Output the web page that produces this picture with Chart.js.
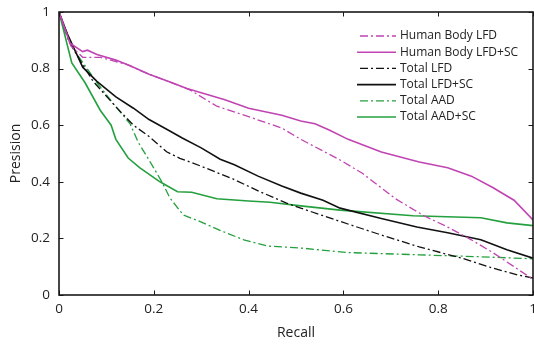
<!DOCTYPE html>
<html>
<head>
<meta charset="utf-8">
<script src="https://cdn.jsdelivr.net/npm/chart.js@4"></script>
<style>
  body { margin: 0; background: #fff; }
  #wrap { width: 534px; height: 345px; position: relative; }
</style>
</head>
<body>
<div id="wrap"><canvas id="myChart"></canvas></div>
<script>
// datos (recall / precision)
const seriesNames = ['Human Body LFD', 'Human Body LFD+SC', 'Total LFD', 'Total LFD+SC', 'Total AAD', 'Total AAD+SC'];

const hbLfdRecall = [0, 0.025, 0.05, 0.087, 0.12, 0.143, 0.19, 0.23, 0.276, 0.333, 0.40, 0.47, 0.51, 0.59, 0.64, 0.71, 0.77, 0.82, 0.87, 0.915, 0.96, 1.0];
const hbLfdPrec   = [1, 0.88, 0.84, 0.84, 0.825, 0.815, 0.78, 0.755, 0.725, 0.667, 0.63, 0.59, 0.55, 0.48, 0.43, 0.34, 0.28, 0.24, 0.195, 0.15, 0.10, 0.055];

const hbScRecall = [0, 0.023, 0.05, 0.06, 0.08, 0.12, 0.15, 0.19, 0.23, 0.27, 0.30, 0.35, 0.40, 0.47, 0.51, 0.54, 0.57, 0.61, 0.68, 0.76, 0.82, 0.87, 0.915, 0.96, 1.0];
const hbScPrec   = [1, 0.89, 0.86, 0.865, 0.85, 0.83, 0.81, 0.78, 0.755, 0.73, 0.715, 0.69, 0.66, 0.635, 0.615, 0.605, 0.583, 0.55, 0.505, 0.47, 0.45, 0.42, 0.38, 0.335, 0.265];

const totLfdRecall = [0, 0.02, 0.044, 0.072, 0.12, 0.157, 0.19, 0.227, 0.255, 0.30, 0.367, 0.424, 0.48, 0.51, 0.593, 0.68, 0.76, 0.85, 0.915, 0.97, 1.0];
const totLfdPrec   = [1, 0.9, 0.83, 0.755, 0.665, 0.60, 0.56, 0.506, 0.483, 0.455, 0.41, 0.365, 0.325, 0.307, 0.26, 0.212, 0.17, 0.13, 0.095, 0.07, 0.06];

const totScRecall = [0, 0.017, 0.05, 0.08, 0.12, 0.157, 0.19, 0.23, 0.26, 0.30, 0.34, 0.37, 0.42, 0.47, 0.51, 0.557, 0.593, 0.68, 0.755, 0.82, 0.89, 0.945, 1.0];
const totScPrec   = [1, 0.925, 0.805, 0.755, 0.70, 0.66, 0.62, 0.583, 0.555, 0.52, 0.48, 0.46, 0.42, 0.385, 0.36, 0.335, 0.307, 0.27, 0.24, 0.22, 0.195, 0.16, 0.13];

const aadRecall = [0, 0.03, 0.08, 0.12, 0.15, 0.167, 0.19, 0.217, 0.234, 0.262, 0.297, 0.346, 0.39, 0.44, 0.51, 0.61, 0.76, 0.89, 1.0];
const aadPrec   = [1, 0.87, 0.75, 0.665, 0.605, 0.54, 0.477, 0.40, 0.343, 0.283, 0.26, 0.224, 0.195, 0.173, 0.166, 0.15, 0.142, 0.135, 0.128];

const aadScRecall = [0, 0.027, 0.055, 0.087, 0.11, 0.12, 0.146, 0.17, 0.213, 0.25, 0.28, 0.333, 0.40, 0.445, 0.51, 0.593, 0.747, 0.89, 0.945, 1.0];
const aadScPrec   = [1, 0.82, 0.75, 0.653, 0.60, 0.55, 0.484, 0.45, 0.40, 0.365, 0.363, 0.34, 0.332, 0.328, 0.315, 0.30, 0.28, 0.273, 0.255, 0.245];

const xTicks = [0, 0.2, 0.4, 0.6, 0.8, 1];
const yTicks = [0, 0.2, 0.4, 0.6, 0.8, 1];
const xTickLabels = ['0', '0.2', '0.4', '0.6', '0.8', '1'];
const yTickLabels = ['0', '0.2', '0.4', '0.6', '0.8', '1'];

const MAGENTA = 'rgb(192, 68, 178)';
const GREEN = 'rgb(36, 160, 62)';
const DASHDOT = [8, 3, 2, 3];

function pts(xs, ys) {
  return xs.map((x, i) => ({ x: x, y: ys[i] }));
}

function ds(label, xs, ys, color, dashed) {
  return {
    label: label,
    data: pts(xs, ys),
    borderColor: color,
    borderWidth: dashed ? 1.3 : 1.6,
    borderDash: dashed ? DASHDOT : [],
    pointRadius: 0,
    fill: false,
    tension: 0
  };
}

const FONT = "'Open Sans', 'DejaVu Sans', sans-serif";

// leyenda dentro del area del grafico
const innerLegend = {
  id: 'innerLegend',
  afterDatasetsDraw(chart) {
    const ctx = chart.ctx;
    const a = chart.chartArea;
    const x0 = a.right - 176;
    const y0 = a.top + 24;
    ctx.save();
    ctx.font = '12px ' + FONT;
    ctx.textBaseline = 'middle';
    ctx.fillStyle = '#222';
    chart.data.datasets.forEach((d, i) => {
      const y = y0 + i * 16.2;
      ctx.beginPath();
      ctx.strokeStyle = d.borderColor;
      ctx.lineWidth = d.borderWidth;
      ctx.setLineDash(d.borderDash);
      ctx.lineDashOffset = -3;
      ctx.moveTo(x0, y);
      ctx.lineTo(x0 + 39, y);
      ctx.stroke();
      ctx.setLineDash([]);
      ctx.fillText(d.label, x0 + 43, y);
    });
    ctx.restore();
  }
};

// caja y marcas hacia adentro
const boxTicks = {
  id: 'boxTicks',
  afterDraw(chart) {
    const ctx = chart.ctx;
    const a = chart.chartArea;
    const xs = chart.scales.x, ys = chart.scales.y;
    const len = 4.5;
    ctx.save();
    ctx.strokeStyle = '#1a1a1a';
    ctx.lineWidth = 1;
    ctx.beginPath();
    xTicks.forEach(v => {
      const px = Math.round(xs.getPixelForValue(v)) + 0.5;
      ctx.moveTo(px, a.bottom); ctx.lineTo(px, a.bottom - len);
      ctx.moveTo(px, a.top); ctx.lineTo(px, a.top + len);
    });
    yTicks.forEach(v => {
      const py = Math.round(ys.getPixelForValue(v)) + 0.5;
      ctx.moveTo(a.left, py); ctx.lineTo(a.left + len, py);
      ctx.moveTo(a.right, py); ctx.lineTo(a.right - len, py);
    });
    ctx.stroke();
    ctx.lineWidth = 1.6;
    ctx.strokeRect(a.left, a.top, a.right - a.left, a.bottom - a.top);
    ctx.restore();
  }
};

const ctx = document.getElementById('myChart').getContext('2d');
const myChart = new Chart(ctx, {
  type: 'line',
  data: {
    datasets: [
      ds(seriesNames[0], hbLfdRecall, hbLfdPrec, MAGENTA, true),
      ds(seriesNames[1], hbScRecall, hbScPrec, MAGENTA, false),
      ds(seriesNames[2], totLfdRecall, totLfdPrec, '#111', true),
      ds(seriesNames[3], totScRecall, totScPrec, '#111', false),
      ds(seriesNames[4], aadRecall, aadPrec, GREEN, true),
      ds(seriesNames[5], aadScRecall, aadScPrec, GREEN, false)
    ]
  },
  options: {
    responsive: true,
    maintainAspectRatio: false,
    animation: false,
    layout: { padding: { top: 12, right: 1, left: 0, bottom: 0 } },
    plugins: {
      legend: { display: false },
      tooltip: { enabled: false }
    },
    scales: {
      x: {
        type: 'linear',
        min: 0,
        max: 1,
        afterBuildTicks: s => { s.ticks = xTicks.map(v => ({ value: v })); },
        afterFit: s => { s.height = 50; s.paddingLeft = 0; s.paddingRight = 0; },
        grid: { display: false, drawTicks: false },
        border: { display: false },
        ticks: {
          padding: 6,
          color: '#222',
          font: { family: FONT, size: 13.5 },
          maxRotation: 0,
          callback: (v, i) => xTickLabels[i]
        },
        title: {
          display: true,
          text: 'Recall',
          color: '#222',
          font: { family: FONT, size: 14 },
          padding: { top: 0, bottom: 4 }
        }
      },
      y: {
        type: 'linear',
        min: 0,
        max: 1,
        afterBuildTicks: s => { s.ticks = yTicks.map(v => ({ value: v })); },
        afterFit: s => { s.width = 59; s.paddingTop = 0; s.paddingBottom = 0; },
        grid: { display: false, drawTicks: false },
        border: { display: false },
        ticks: {
          padding: 9,
          color: '#222',
          font: { family: FONT, size: 13.5 },
          callback: (v, i) => yTickLabels[i]
        },
        title: {
          display: true,
          text: 'Presision',
          color: '#222',
          font: { family: FONT, size: 14 },
          padding: { top: 8, bottom: 0 }
        }
      }
    }
  },
  plugins: [innerLegend, boxTicks]
});
</script>
</body>
</html>
